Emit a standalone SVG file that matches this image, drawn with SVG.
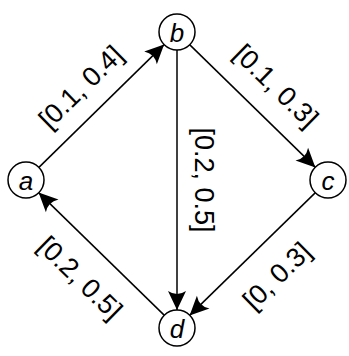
<svg xmlns="http://www.w3.org/2000/svg" width="349" height="356" viewBox="0 0 349 356">
<defs>
<marker id="arr" markerUnits="userSpaceOnUse" markerWidth="22" markerHeight="22" viewBox="-20 -10 22 20" refX="0" refY="0" orient="auto">
<path d="M0,0 L-19,-9 Q-13,0 -19,9 Z" fill="#000"/>
</marker>
</defs>
<style>
.node circle{fill:#fff;stroke:#000;stroke-width:1.5}
.node text{font-family:"Liberation Sans",Arial,sans-serif;font-style:italic;font-size:26px;text-anchor:middle;dominant-baseline:central}
.edge{stroke:#000;stroke-width:1.5;fill:none;marker-end:url(#arr)}
.lbl{font-family:"Liberation Sans",Arial,sans-serif;font-size:27px;text-anchor:middle;dominant-baseline:central}
</style>
<rect width="349" height="356" fill="#fff"/>
<g id="connectors">
<line class="edge" x1="38.9" y1="167.4" x2="164.1" y2="44.6"/>
<line class="edge" x1="189.6" y1="44.6" x2="315.4" y2="167.4"/>
<line class="edge" x1="177" y1="50" x2="177" y2="310"/>
<line class="edge" x1="315.4" y1="192.6" x2="189.6" y2="315.4"/>
<line class="edge" x1="164.4" y1="315.4" x2="38.6" y2="192.6"/>
<text class="lbl" transform="translate(81,87) rotate(-44.4)">[0.1, 0.4]</text>
<text class="lbl" transform="translate(276,86) rotate(44.4)">[0.1, 0.3]</text>
<text class="lbl" transform="translate(204,180) rotate(90)">[0.2, 0.5]</text>
<text class="lbl" transform="translate(277,276) rotate(-44.4)">[0, 0.3]</text>
<text class="lbl" transform="translate(80,278) rotate(44.4)">[0.2, 0.5]</text>
</g>
<g id="a" class="node"><circle cx="26" cy="180" r="18"/><text x="26" y="181">a</text></g>
<g id="b" class="node"><circle cx="177" cy="32" r="18"/><text x="177" y="33">b</text></g>
<g id="c" class="node"><circle cx="328" cy="180" r="18"/><text x="328" y="181">c</text></g>
<g id="d" class="node"><circle cx="177" cy="328" r="18"/><text x="177" y="329">d</text></g>
</svg>
